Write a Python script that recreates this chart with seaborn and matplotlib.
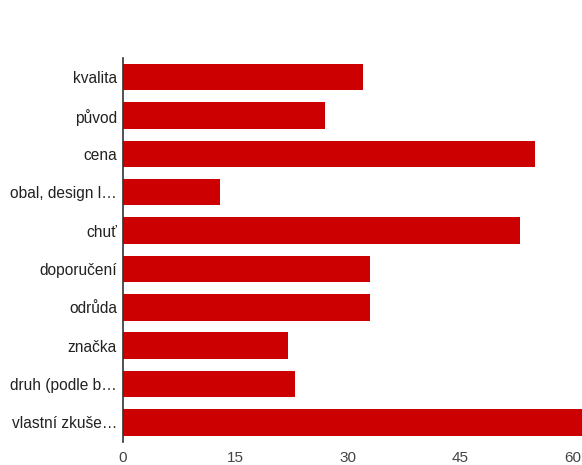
import matplotlib
matplotlib.use("Agg")
import matplotlib.pyplot as plt
import seaborn as sns
import pandas as pd

categories = ["kvalita", "původ", "cena", "obal, design l…", "chuť",
              "doporučení", "odrůda", "značka", "druh (podle b…", "vlastní zkuše…"]
values = [32, 27, 55, 13, 53, 33, 33, 22, 23, 62]
xticks = [0, 15, 30, 45, 60]

sns.set_style("white")
plt.rcParams['font.family'] = ['Liberation Sans', 'DejaVu Sans']

df = pd.DataFrame({"cat": categories, "val": values})

fig = plt.figure(figsize=(5.82, 4.65), dpi=100)
ax = fig.add_axes([122.5/582, 1-441.5/465, 1-122.5/582, (441.5-58)/465])
sns.barplot(data=df, x="val", y="cat", color="#cc0000", saturation=1,
            width=0.69, ax=ax, edgecolor="none")
ax.set_xlim(0, (582-122.5)/7.5)
ax.set_ylim(9.5, -0.5)
ax.set_xticks(xticks)
ax.set_xticklabels([str(t) for t in xticks])
ax.set_xlabel("")
ax.set_ylabel("")
for s in ["top", "right", "bottom"]:
    ax.spines[s].set_visible(False)
ax.spines["left"].set_color("#333333")
ax.spines["left"].set_linewidth(1.2)
ax.tick_params(axis="x", length=0, pad=7, labelsize=11, labelcolor="#444444")
ax.tick_params(axis="y", length=0, pad=4, labelsize=11.2, labelcolor="#222222")
fig.savefig("out.png", dpi=100)
